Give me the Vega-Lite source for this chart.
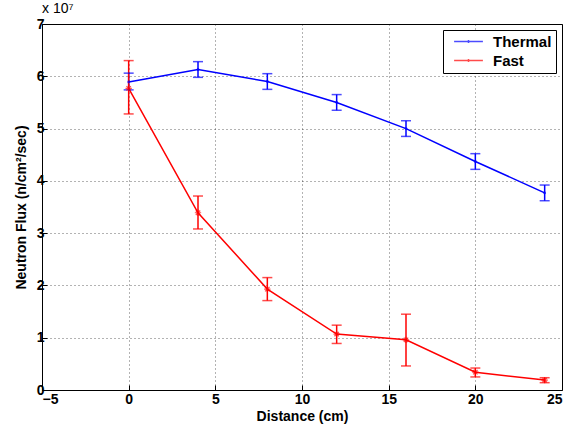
{
  "$schema": "https://vega.github.io/schema/vega-lite/v6.json",
  "width": 520,
  "height": 366,
  "autosize": "none",
  "padding": {"left": 42, "top": 24, "right": 6, "bottom": 42},
  "background": "white",
  "config": {
    "font": "Liberation Sans",
    "view": {"stroke": "#000", "strokeWidth": 1},
    "axis": {
      "labelFont": "Liberation Sans", "labelFontWeight": "bold", "labelFontSize": 14, "labelColor": "#000",
      "titleFont": "Liberation Sans", "titleFontWeight": "bold", "titleFontSize": 14, "titleColor": "#000",
      "domain": false, "tickColor": "#000", "tickSize": -5, "labelPadding": 3,
      "gridColor": "#000", "gridDash": [1, 3], "gridOpacity": 0.6
    }
  },
  "title": {"text": "x 10⁷", "anchor": "start", "frame": "group", "fontSize": 14, "fontWeight": "normal", "font": "Liberation Sans", "offset": 1, "dx": 0},
  "data": {"values": [
    {"series": "Thermal", "x": 0, "y": 5.89, "lo": 5.74, "hi": 6.06},
    {"series": "Thermal", "x": 4, "y": 6.13, "lo": 5.98, "hi": 6.28},
    {"series": "Thermal", "x": 8, "y": 5.9, "lo": 5.75, "hi": 6.05},
    {"series": "Thermal", "x": 12, "y": 5.5, "lo": 5.35, "hi": 5.65},
    {"series": "Thermal", "x": 16, "y": 5.0, "lo": 4.85, "hi": 5.15},
    {"series": "Thermal", "x": 20, "y": 4.37, "lo": 4.22, "hi": 4.52},
    {"series": "Thermal", "x": 24, "y": 3.77, "lo": 3.62, "hi": 3.92},
    {"series": "Fast", "x": 0, "y": 5.77, "lo": 5.28, "hi": 6.3},
    {"series": "Fast", "x": 4, "y": 3.39, "lo": 3.08, "hi": 3.71},
    {"series": "Fast", "x": 8, "y": 1.93, "lo": 1.71, "hi": 2.15},
    {"series": "Fast", "x": 12, "y": 1.07, "lo": 0.89, "hi": 1.24},
    {"series": "Fast", "x": 16, "y": 0.96, "lo": 0.46, "hi": 1.45},
    {"series": "Fast", "x": 20, "y": 0.34, "lo": 0.25, "hi": 0.42},
    {"series": "Fast", "x": 24, "y": 0.19, "lo": 0.14, "hi": 0.235}
  ]},
  "encoding": {
    "x": {"field": "x", "type": "quantitative", "scale": {"domain": [-5, 25], "nice": false}, "axis": {"title": "Distance (cm)", "values": [-5, 0, 5, 10, 15, 20, 25], "format": "d", "grid": true, "labelPadding": 7, "titlePadding": 3}},
    "color": {"field": "series", "type": "nominal", "scale": {"domain": ["Thermal", "Fast"], "range": ["#0000ff", "#ff0000"]},
      "legend": {"title": null, "orient": "top-right", "offset": 6, "symbolType": "M-3.6,0L3.6,0M-0.35,0L0.35,0M0,-0.35L0,0.35", "symbolSize": 64, "symbolStrokeWidth": 1.5, "symbolOffset": 14,
        "labelFont": "Liberation Sans", "labelFontWeight": "bold", "labelFontSize": 15, "labelColor": "#000",
        "strokeColor": "#000", "fillColor": "white", "padding": 4, "rowPadding": 3, "labelOffset": 17}}
  },
  "layer": [
    {
      "mark": {"type": "line", "strokeWidth": 1.5},
      "encoding": {
        "y": {"field": "y", "type": "quantitative", "scale": {"domain": [0, 7], "nice": false}, "axis": {"title": "Neutron Flux (n/cm²/sec)", "values": [0, 1, 2, 3, 4, 5, 6, 7], "format": "d", "grid": true, "titlePadding": 8}}
      }
    },
    {
      "mark": {"type": "rule", "strokeWidth": 1.5},
      "encoding": {"y": {"field": "lo", "type": "quantitative"}, "y2": {"field": "hi"}}
    },
    {
      "mark": {"type": "tick", "orient": "horizontal", "size": 10, "thickness": 1.5},
      "encoding": {"y": {"field": "lo", "type": "quantitative"}}
    },
    {
      "mark": {"type": "tick", "orient": "horizontal", "size": 10, "thickness": 1.5},
      "encoding": {"y": {"field": "hi", "type": "quantitative"}}
    },
    {
      "mark": {"type": "point", "shape": "M-1,0L1,0M0,-1L0,1M-0.7,-0.7L0.7,0.7M-0.7,0.7L0.7,-0.7", "size": 40, "strokeWidth": 1.2, "filled": false},
      "transform": [{"filter": "datum.series == 'Fast'"}],
      "encoding": {"y": {"field": "y", "type": "quantitative"}}
    },
    {
      "mark": {"type": "point", "shape": "circle", "size": 8, "filled": true},
      "transform": [{"filter": "datum.series == 'Thermal'"}],
      "encoding": {"y": {"field": "y", "type": "quantitative"}}
    }
  ]
}
